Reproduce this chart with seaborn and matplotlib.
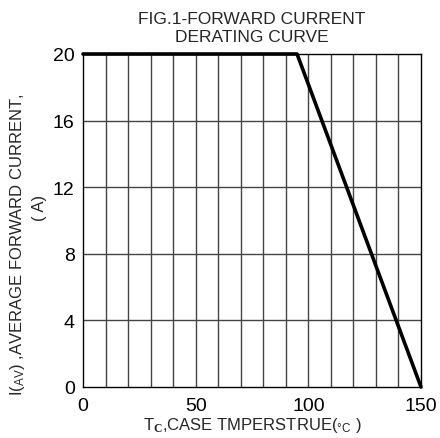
import matplotlib
matplotlib.use("Agg")
import matplotlib.pyplot as plt
import seaborn as sns
import pandas as pd

# Derating curve points
case_temp = [0, 95, 150]
fwd_current = [20, 20, 0]

x_ticks = [0, 50, 100, 150]
y_ticks = [0, 4, 8, 12, 16, 20]

df = pd.DataFrame({"temp": case_temp, "current": fwd_current})

sns.set_style("white")
plt.rcParams["font.family"] = ["Liberation Sans", "DejaVu Sans"]
plt.rcParams["mathtext.fontset"] = "custom"
plt.rcParams["mathtext.rm"] = "Liberation Sans"
plt.rcParams["mathtext.it"] = "Liberation Sans"
plt.rcParams["mathtext.bf"] = "Liberation Serif:bold"

fig = plt.figure(figsize=(4.40, 4.39), dpi=100)
ax = fig.add_axes([83 / 440, 1 - 388 / 439, 338 / 440, 333 / 439])

# grid: vertical every 10, horizontal every 4
for xv in range(10, 150, 10):
    ax.axvline(xv, color="#444444", lw=1, zorder=1)
for yv in range(4, 20, 4):
    ax.axhline(yv, color="#444444", lw=1, zorder=1)

sns.lineplot(data=df, x="temp", y="current", color="black", lw=2.6, ax=ax, zorder=3, clip_on=False)

ax.set_xlim(0, 150)
ax.set_ylim(0, 20)
ax.set_xticks(x_ticks)
ax.set_yticks(y_ticks)
ax.tick_params(axis="both", labelsize=14, colors="black")
ax.tick_params(axis="y", length=3, width=0.8, pad=3)
ax.tick_params(axis="x", length=0, pad=7)
for s in ax.spines.values():
    s.set_color("black")
    s.set_linewidth(1)

ax.set_xlabel(r"T$_{\mathbf{C}}$,CASE TMPERSTRUE($_{°\mathrm{C}}$ )", fontsize=12, labelpad=1)
ax.set_ylabel("")
fig.text(18 / 440, 1 - 245 / 439, r"I($_{\mathrm{AV}}$) ,AVERAGE FORWARD CURRENT,", rotation=90,
         fontsize=12, ha="center", va="center")
fig.text(39 / 440, 1 - 208 / 439, "( A)", rotation=90, fontsize=12, ha="center", va="center")
ax.set_title("FIG.1-FORWARD CURRENT\nDERATING CURVE", fontsize=12.5, pad=9, linespacing=1.3)

fig.savefig("out.png", dpi=100)
